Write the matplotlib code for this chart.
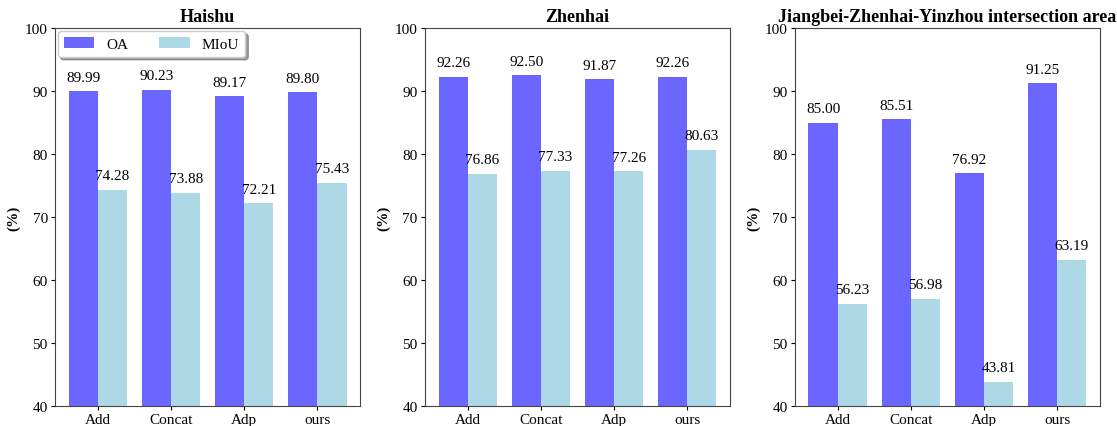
import matplotlib.pyplot as plt
import numpy as np

plt.rcParams['font.family'] = ['Liberation Serif', 'DejaVu Serif']

methods = ["Add", "Concat", "Adp", "ours"]
titles = ["Haishu", "Zhenhai", "Jiangbei-Zhenhai-Yinzhou intersection area"]
oa = [
    [89.99, 90.23, 89.17, 89.80],
    [92.26, 92.50, 91.87, 92.26],
    [85.00, 85.51, 76.92, 91.25],
]
miou = [
    [74.28, 73.88, 72.21, 75.43],
    [76.86, 77.33, 77.26, 80.63],
    [56.23, 56.98, 43.81, 63.19],
]

oa_color = "#6a66ff"
miou_color = "#add8e6"

fig, axes = plt.subplots(1, 3, figsize=(11.17, 4.27), dpi=100)
fig.subplots_adjust(left=0.049, right=0.985, bottom=0.047, top=0.932, wspace=0.21)

x = np.arange(len(methods))
w = 0.4
for i, ax in enumerate(axes):
    b1 = ax.bar(x - w / 2, oa[i], w, color=oa_color, label="OA")
    b2 = ax.bar(x + w / 2, miou[i], w, color=miou_color, label="MIoU")
    for bars in (b1, b2):
        for b in bars:
            h = b.get_height()
            ax.text(b.get_x() + b.get_width() / 2, h + 1.2, "%.2f" % h,
                    ha="center", va="bottom", fontsize=11)
    ax.set_ylim(40, 100)
    ax.set_xticks(x)
    ax.set_xticklabels(methods)
    ax.tick_params(labelsize=11, length=3, pad=2)
    ax.set_ylabel("(%)", fontsize=11, fontweight="bold", labelpad=3)
    ax.set_title(titles[i], fontsize=13, fontweight="bold", pad=5)
    for s in ax.spines.values():
        s.set_color("#444444")

axes[0].legend(loc="upper left", ncol=2, shadow=True, fontsize=11,
               handlelength=2, handletextpad=0.8, columnspacing=2,
               borderaxespad=0.2)

plt.savefig("out.png")
